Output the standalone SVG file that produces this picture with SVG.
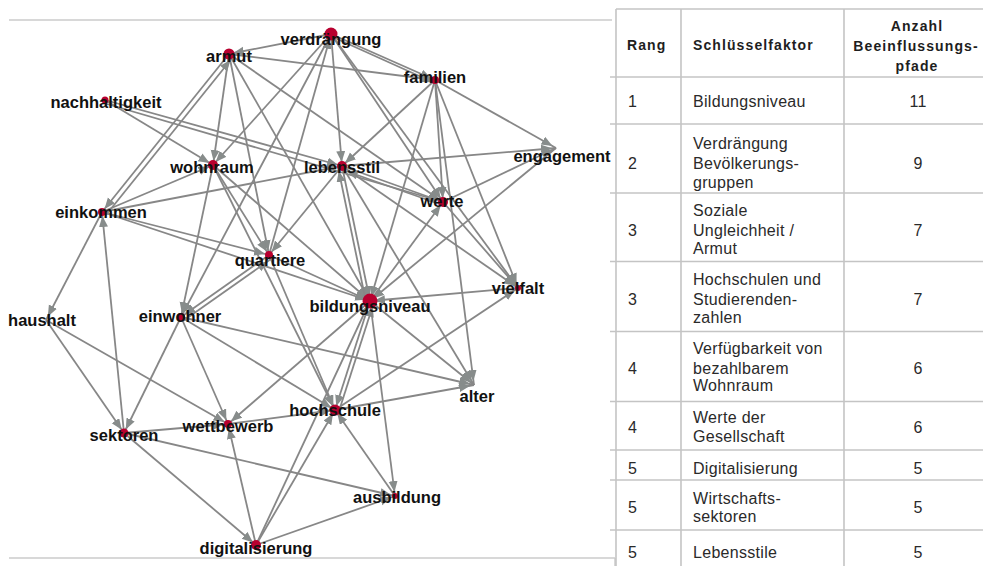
<svg xmlns="http://www.w3.org/2000/svg" width="983" height="566" viewBox="0 0 983 566">
<defs>
<marker id="arr" markerUnits="userSpaceOnUse" markerWidth="20" markerHeight="10" refX="15" refY="4.5" orient="auto">
<path d="M0,0 L11,4.5 L0,9 z" fill="#878c8b"/>
</marker>
<style>
.e{stroke:#878787;stroke-width:1.8;fill:none;marker-end:url(#arr)}
.dot{fill:#b8002f}
.lbl{font-family:"Liberation Sans",Arial,sans-serif;font-weight:bold;font-size:16.5px;fill:#111;text-anchor:middle}
.th{font-family:"Liberation Sans",Arial,sans-serif;font-weight:bold;font-size:14px;letter-spacing:1.1px;fill:#1e1e1e}
.td{font-family:"Liberation Sans",Arial,sans-serif;font-size:16px;letter-spacing:0.3px;fill:#2a2a2a}
.c{text-anchor:middle}
.grid{stroke:#c4c4c4;stroke-width:1.6;fill:none}
.frame{stroke:#cbcbcb;stroke-width:1.5;fill:none}
</style>
</defs>
<rect width="983" height="566" fill="#fff"/>
<g id="frame">
<line class="frame" x1="9" y1="20" x2="612" y2="20"/>
<line class="frame" x1="9" y1="558" x2="615" y2="558"/>
<line class="frame" x1="615" y1="558" x2="615" y2="566"/>
</g>
<g id="connectors">
<line class="e" x1="331" y1="34" x2="229" y2="54"/>
<line class="e" x1="331" y1="34" x2="435" y2="80"/>
<line class="e" x1="335" y1="38" x2="437" y2="84"/>
<line class="e" x1="229" y1="54" x2="435" y2="80"/>
<line class="e" x1="331" y1="34" x2="213" y2="165"/>
<line class="e" x1="331" y1="34" x2="342" y2="166"/>
<line class="e" x1="331" y1="34" x2="443" y2="202"/>
<line class="e" x1="331" y1="34" x2="518" y2="288"/>
<line class="e" x1="269" y1="255" x2="331" y2="34"/>
<line class="e" x1="331" y1="34" x2="181" y2="317"/>
<line class="e" x1="229" y1="54" x2="213" y2="165"/>
<line class="e" x1="229" y1="54" x2="269" y2="255"/>
<line class="e" x1="229" y1="54" x2="102" y2="212"/>
<line class="e" x1="106" y1="215" x2="233" y2="57"/>
<line class="e" x1="229" y1="54" x2="443" y2="202"/>
<line class="e" x1="229" y1="54" x2="370" y2="301"/>
<line class="e" x1="435" y1="80" x2="556" y2="148"/>
<line class="e" x1="435" y1="80" x2="443" y2="202"/>
<line class="e" x1="435" y1="80" x2="518" y2="288"/>
<line class="e" x1="435" y1="80" x2="370" y2="301"/>
<line class="e" x1="435" y1="80" x2="474" y2="385"/>
<line class="e" x1="435" y1="80" x2="342" y2="166"/>
<line class="e" x1="105" y1="100" x2="213" y2="165"/>
<line class="e" x1="105" y1="100" x2="342" y2="166"/>
<line class="e" x1="107" y1="104" x2="443" y2="202"/>
<line class="e" x1="213" y1="165" x2="269" y2="255"/>
<line class="e" x1="213" y1="165" x2="335" y2="410"/>
<line class="e" x1="213" y1="165" x2="370" y2="301"/>
<line class="e" x1="213" y1="165" x2="181" y2="317"/>
<line class="e" x1="102" y1="212" x2="213" y2="165"/>
<line class="e" x1="102" y1="212" x2="342" y2="166"/>
<line class="e" x1="102" y1="212" x2="269" y2="255"/>
<line class="e" x1="102" y1="212" x2="370" y2="301"/>
<line class="e" x1="102" y1="212" x2="46" y2="320"/>
<line class="e" x1="124" y1="433" x2="102" y2="212"/>
<line class="e" x1="342" y1="166" x2="443" y2="202"/>
<line class="e" x1="445" y1="206" x2="343" y2="170"/>
<line class="e" x1="342" y1="166" x2="556" y2="148"/>
<line class="e" x1="342" y1="166" x2="518" y2="288"/>
<line class="e" x1="342" y1="166" x2="370" y2="301"/>
<line class="e" x1="366" y1="302" x2="338" y2="167"/>
<line class="e" x1="342" y1="166" x2="474" y2="385"/>
<line class="e" x1="342" y1="166" x2="269" y2="255"/>
<line class="e" x1="443" y1="202" x2="556" y2="148"/>
<line class="e" x1="443" y1="202" x2="518" y2="288"/>
<line class="e" x1="370" y1="301" x2="443" y2="202"/>
<line class="e" x1="556" y1="148" x2="370" y2="301"/>
<line class="e" x1="518" y1="288" x2="370" y2="301"/>
<line class="e" x1="269" y1="255" x2="370" y2="301"/>
<line class="e" x1="269" y1="255" x2="181" y2="317"/>
<line class="e" x1="183" y1="321" x2="271" y2="259"/>
<line class="e" x1="269" y1="255" x2="335" y2="410"/>
<line class="e" x1="370" y1="301" x2="335" y2="410"/>
<line class="e" x1="339" y1="411" x2="374" y2="302"/>
<line class="e" x1="370" y1="301" x2="228" y2="424"/>
<line class="e" x1="370" y1="301" x2="395" y2="496"/>
<line class="e" x1="370" y1="301" x2="474" y2="385"/>
<line class="e" x1="256" y1="545" x2="370" y2="301"/>
<line class="e" x1="46" y1="320" x2="124" y2="433"/>
<line class="e" x1="46" y1="320" x2="228" y2="424"/>
<line class="e" x1="181" y1="317" x2="124" y2="433"/>
<line class="e" x1="181" y1="317" x2="228" y2="424"/>
<line class="e" x1="181" y1="317" x2="335" y2="410"/>
<line class="e" x1="181" y1="317" x2="474" y2="385"/>
<line class="e" x1="124" y1="433" x2="228" y2="424"/>
<line class="e" x1="228" y1="424" x2="335" y2="410"/>
<line class="e" x1="124" y1="433" x2="395" y2="496"/>
<line class="e" x1="124" y1="433" x2="256" y2="545"/>
<line class="e" x1="256" y1="545" x2="228" y2="424"/>
<line class="e" x1="256" y1="545" x2="335" y2="410"/>
<line class="e" x1="256" y1="545" x2="395" y2="496"/>
<line class="e" x1="395" y1="496" x2="335" y2="410"/>
<line class="e" x1="335" y1="410" x2="474" y2="385"/>
<line class="e" x1="335" y1="410" x2="518" y2="288"/>
</g>
<g id="n-verdraengung"><circle class="dot" cx="331" cy="34" r="6.5"/><text class="lbl" x="331" y="45">verdrängung</text></g>
<g id="n-armut"><circle class="dot" cx="229" cy="54" r="5.5"/><text class="lbl" x="229" y="62">armut</text></g>
<g id="n-familien"><circle class="dot" cx="435" cy="80" r="4"/><text class="lbl" x="435" y="83">familien</text></g>
<g id="n-nachhaltigkeit"><circle class="dot" cx="105" cy="100" r="3.5"/><text class="lbl" x="106" y="108">nachhaltigkeit</text></g>
<g id="n-wohnraum"><circle class="dot" cx="213" cy="165" r="5"/><text class="lbl" x="212" y="173">wohnraum</text></g>
<g id="n-lebensstil"><circle class="dot" cx="342" cy="166" r="5"/><text class="lbl" x="342" y="173">lebensstil</text></g>
<g id="n-engagement"><text class="lbl" x="562" y="162">engagement</text></g>
<g id="n-werte"><circle class="dot" cx="443" cy="202" r="5"/><text class="lbl" x="442" y="207">werte</text></g>
<g id="n-einkommen"><circle class="dot" cx="102" cy="212" r="4"/><text class="lbl" x="101" y="218">einkommen</text></g>
<g id="n-quartiere"><circle class="dot" cx="269" cy="255" r="4"/><text class="lbl" x="270" y="266">quartiere</text></g>
<g id="n-vielfalt"><circle class="dot" cx="518" cy="288" r="3"/><text class="lbl" x="518" y="294">vielfalt</text></g>
<g id="n-bildungsniveau"><circle class="dot" cx="370" cy="301" r="7.5"/><text class="lbl" x="370" y="312">bildungsniveau</text></g>
<g id="n-haushalt"><text class="lbl" x="42" y="326">haushalt</text></g>
<g id="n-einwohner"><circle class="dot" cx="181" cy="317" r="4"/><text class="lbl" x="180" y="322">einwohner</text></g>
<g id="n-alter"><text class="lbl" x="477" y="402">alter</text></g>
<g id="n-hochschule"><circle class="dot" cx="335" cy="410" r="5.5"/><text class="lbl" x="335" y="416">hochschule</text></g>
<g id="n-wettbewerb"><circle class="dot" cx="228" cy="424" r="4"/><text class="lbl" x="228" y="432">wettbewerb</text></g>
<g id="n-sektoren"><circle class="dot" cx="124" cy="433" r="4.5"/><text class="lbl" x="124" y="441">sektoren</text></g>
<g id="n-ausbildung"><circle class="dot" cx="395" cy="496" r="3"/><text class="lbl" x="397" y="503">ausbildung</text></g>
<g id="n-digitalisierung"><circle class="dot" cx="256" cy="545" r="5"/><text class="lbl" x="256" y="554">digitalisierung</text></g>
<g id="table">
<line class="grid" x1="616" y1="9" x2="616" y2="566"/>
<line class="grid" x1="681" y1="9" x2="681" y2="566"/>
<line class="grid" x1="844" y1="9" x2="844" y2="566"/>
<line class="grid" x1="616" y1="9" x2="983" y2="9"/>
<line class="grid" x1="610" y1="77" x2="983" y2="77"/>
<line class="grid" x1="610" y1="124" x2="983" y2="124"/>
<line class="grid" x1="610" y1="193" x2="983" y2="193"/>
<line class="grid" x1="610" y1="261.5" x2="983" y2="261.5"/>
<line class="grid" x1="610" y1="331.5" x2="983" y2="331.5"/>
<line class="grid" x1="610" y1="401.5" x2="983" y2="401.5"/>
<line class="grid" x1="610" y1="450" x2="983" y2="450"/>
<line class="grid" x1="610" y1="480" x2="983" y2="480"/>
<line class="grid" x1="610" y1="530" x2="983" y2="530"/>
<text class="th" x="627" y="50">Rang</text>
<text class="th" x="693" y="50">Schlüsselfaktor</text>
<text class="th c" x="917" y="31">Anzahl</text>
<text class="th c" x="916" y="51">Beeinflussungs-</text>
<text class="th c" x="917" y="71">pfade</text>
<text class="td" x="628" y="107">1</text>
<text class="td" x="693" y="107">Bildungsniveau</text>
<text class="td c" x="918" y="107">11</text>
<text class="td" x="628" y="169">2</text>
<text class="td" x="693" y="149">Verdrängung</text>
<text class="td" x="693" y="169">Bevölkerungs-</text>
<text class="td" x="693" y="188">gruppen</text>
<text class="td c" x="918" y="169">9</text>
<text class="td" x="628" y="236">3</text>
<text class="td" x="693" y="216">Soziale</text>
<text class="td" x="693" y="236">Ungleichheit /</text>
<text class="td" x="693" y="254">Armut</text>
<text class="td c" x="918" y="236">7</text>
<text class="td" x="628" y="305">3</text>
<text class="td" x="693" y="285">Hochschulen und</text>
<text class="td" x="693" y="305">Studierenden-</text>
<text class="td" x="693" y="323">zahlen</text>
<text class="td c" x="918" y="305">7</text>
<text class="td" x="628" y="374">4</text>
<text class="td" x="693" y="354">Verfügbarkeit von</text>
<text class="td" x="693" y="374">bezahlbarem</text>
<text class="td" x="693" y="391">Wohnraum</text>
<text class="td c" x="918" y="374">6</text>
<text class="td" x="628" y="433">4</text>
<text class="td" x="693" y="423">Werte der</text>
<text class="td" x="693" y="442">Gesellschaft</text>
<text class="td c" x="918" y="433">6</text>
<text class="td" x="628" y="474">5</text>
<text class="td" x="693" y="474">Digitalisierung</text>
<text class="td c" x="918" y="474">5</text>
<text class="td" x="628" y="513">5</text>
<text class="td" x="693" y="504">Wirtschafts-</text>
<text class="td" x="693" y="522">sektoren</text>
<text class="td c" x="918" y="513">5</text>
<text class="td" x="628" y="558">5</text>
<text class="td" x="693" y="558">Lebensstile</text>
<text class="td c" x="918" y="558">5</text>
</g>
</svg>
